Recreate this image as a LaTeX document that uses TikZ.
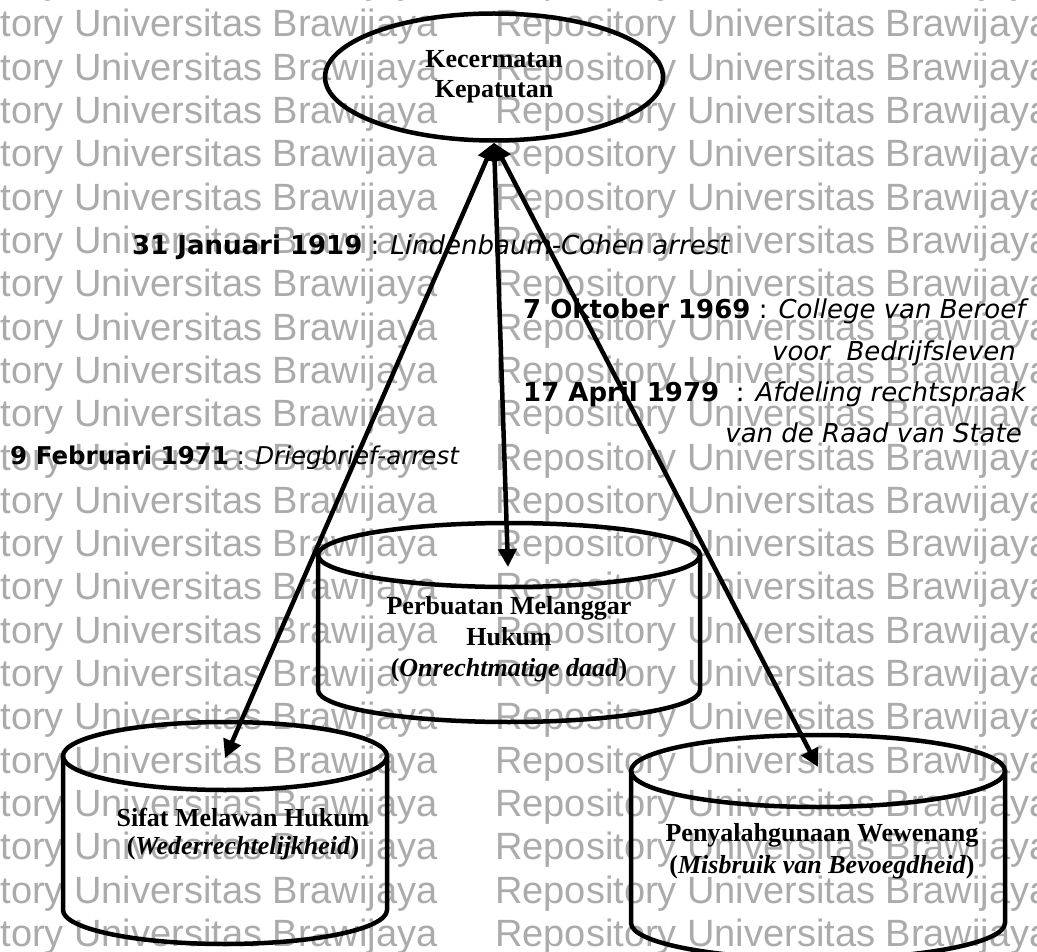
\documentclass[tikz,border=0pt]{standalone}
\usepackage{fontspec}
\usetikzlibrary{arrows.meta,shapes.geometric}
\newfontfamily\tahf{DejaVu Sans}
\newfontfamily\tnrf{Liberation Serif}
\newfontfamily\wmf{Liberation Sans}
\newcommand\drawcyl[5]{%
  \draw[outl, line join=round] (#1-#3,#2) -- (#1-#3,#5)
     arc[start angle=180,end angle=360,x radius=#3pt,y radius=#4pt] -- (#1+#3,#2);
  \draw[outl] (#1,#2) ellipse[x radius=#3pt, y radius=#4pt];
}
\begin{document}
\begin{tikzpicture}[x=1pt,y=-1pt,
  wm/.style={anchor=base west, inner sep=0, text=black!33, font=\wmf\fontsize{38}{38}\selectfont},
  outl/.style={line width=4.5pt, draw=black},
  conn/.style={line width=4.5pt, {Triangle[length=18pt,width=18pt]}-{Triangle[length=18pt,width=18pt]}},
  date/.style={inner sep=0, font=\tahf\fontsize{26}{30}\selectfont},
  lbl/.style={inner sep=0, align=center, font=\tnrf\bfseries\fontsize{26}{31}\selectfont}]
\useasboundingbox (0,0) rectangle (1037,952);
\clip (0,0) rectangle (1037,952);
\fill[white] (0,0) rectangle (1037,952);
% watermark
\foreach \k in {0,...,22} {
  \node[wm] (wa\k) at (-118, {37+43.3*(\k-1)}) {Repository Universitas Brawijaya};
  \node[wm] (wb\k) at (495, {37+43.3*(\k-1)}) {Repository Universitas Brawijaya};
}
% top ellipse
\node[draw, outl, ellipse, minimum width=338pt, minimum height=127pt, inner sep=0,
      align=center, font=\tnrf\bfseries\fontsize{26}{30}\selectfont] (K) at (494,77)
      {Kecermatan\\Kepatutan};
% cylinders
\drawcyl{225}{756}{162}{34}{910}
\drawcyl{509}{555}{191}{32}{690}
\drawcyl{818}{771}{187}{36}{923}
\coordinate (Lt) at (225,758);
\coordinate (Mt) at (508,567);
\coordinate (Rt) at (818,767);
\node[lbl] (M) at (509,639) {Perbuatan Melanggar\\Hukum\\(\textit{Onrechtmatige daad})};
\node[lbl, font=\tnrf\bfseries\fontsize{26}{28}\selectfont] (L) at (243,834) {Sifat Melawan Hukum\\(\textit{Wederrechtelijkheid})};
\node[lbl, font=\tnrf\bfseries\fontsize{26}{32}\selectfont] (R) at (822,851) {Penyalahgunaan Wewenang\\(\textit{Misbruik van Bevoegdheid})};
% connectors
\draw[conn] (K.south) -- (Lt);
\draw[conn] (K.south) -- (Mt);
\draw[conn] (K.south) -- (Rt);
% date labels
\node[date, anchor=base west] (d1) at (132,255) {\textbf{31 Januari 1919} : \textit{Lindenbaum-Cohen arrest}};
\node[date, anchor=base west] (d2) at (523,319) {\textbf{7 Oktober 1969} : \textit{College van Beroef}};
\node[date, anchor=base east] (d3) at (1016,360) {\textit{voor\ \ Bedrijfsleven}};
\node[date, anchor=base west] (d4) at (523,401) {\textbf{17 April 1979}\ \ : \textit{Afdeling rechtspraak}};
\node[date, anchor=base east] (d5) at (1022,442) {\textit{van de Raad van State}};
\node[date, anchor=base west, font=\tahf\fontsize{24.5}{30}\selectfont] (d6) at (10,464) {\textbf{9 Februari 1971} : \textit{Driegbrief-arrest}};
\end{tikzpicture}
\end{document}
